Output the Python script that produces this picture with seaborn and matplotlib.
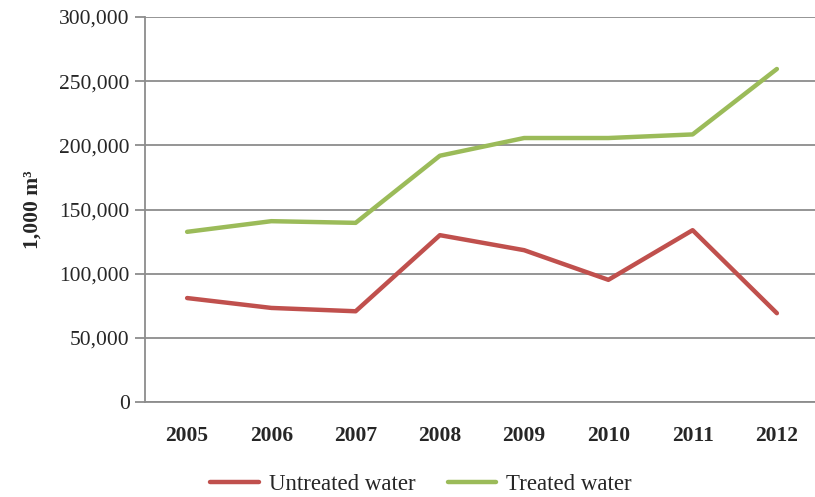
import matplotlib
matplotlib.use("Agg")
import matplotlib.pyplot as plt
import seaborn as sns
import pandas as pd
from matplotlib.ticker import FuncFormatter, FixedLocator
from matplotlib.lines import Line2D

years = ["2005", "2006", "2007", "2008", "2009", "2010", "2011", "2012"]
untreated = [81000, 73300, 70700, 130000, 118300, 95200, 133900, 69200]
treated = [132600, 140900, 139600, 191900, 205700, 205700, 208500, 259500]
series_names = ["Untreated water", "Treated water"]
colors = ["#C0504D", "#9BBB59"]
y_ticks = [0, 50000, 100000, 150000, 200000, 250000, 300000]

df = pd.DataFrame({
    "Year": years * 2,
    "Value": untreated + treated,
    "Series": [series_names[0]] * len(years) + [series_names[1]] * len(years),
})

sns.set_theme(style="white")
plt.rcParams["font.family"] = ["Liberation Serif", "DejaVu Serif"]

fig = plt.figure(figsize=(8.15, 4.97), dpi=100)
ax = fig.add_axes([145 / 815, 95 / 497, 674 / 815, 385 / 497])

sns.lineplot(data=df, x="Year", y="Value", hue="Series", palette=colors,
             hue_order=series_names, linewidth=3.2, ax=ax, legend=False,
             solid_capstyle="round", sort=False)

ax.set_xlim(-0.5, len(years) - 0.5)
ax.set_ylim(0, 300000)
ax.yaxis.set_major_locator(FixedLocator(y_ticks))
ax.yaxis.set_major_formatter(FuncFormatter(lambda v, p: f"{int(v):,}"))
ax.grid(axis="y", color="#8c8c8c", linewidth=1.3)
ax.set_axisbelow(True)

for s in ["top", "right"]:
    ax.spines[s].set_visible(False)
for s in ["left", "bottom"]:
    ax.spines[s].set_color("#8c8c8c")
    ax.spines[s].set_linewidth(1.3)

ax.set_xticks(range(len(years)))
ax.set_xticklabels(years, fontsize=15.5, fontweight="bold")
ax.set_xticks([i - 0.5 for i in range(len(years) + 1)], minor=True)
ax.tick_params(axis="x", which="major", length=0, pad=17)
ax.tick_params(axis="x", which="minor", length=6, color="#8c8c8c", width=1.3, direction="out")
ax.tick_params(axis="y", which="major", length=7, color="#8c8c8c", width=1.3,
               direction="out", labelsize=15.5, pad=4, left=True)

ax.set_xlabel("")
ax.set_ylabel("1,000 m³", fontsize=15.5, fontweight="bold", labelpad=12)

handles = [Line2D([0], [0], color=c, linewidth=3.2, solid_capstyle="round") for c in colors]
fig.legend(handles, series_names, loc="center", bbox_to_anchor=(421 / 815, 1 - 484 / 497),
           ncol=2, frameon=False, fontsize=16.5, handlelength=2.1, columnspacing=1.4,
           handletextpad=0.45)

fig.savefig("out.png", dpi=100)
